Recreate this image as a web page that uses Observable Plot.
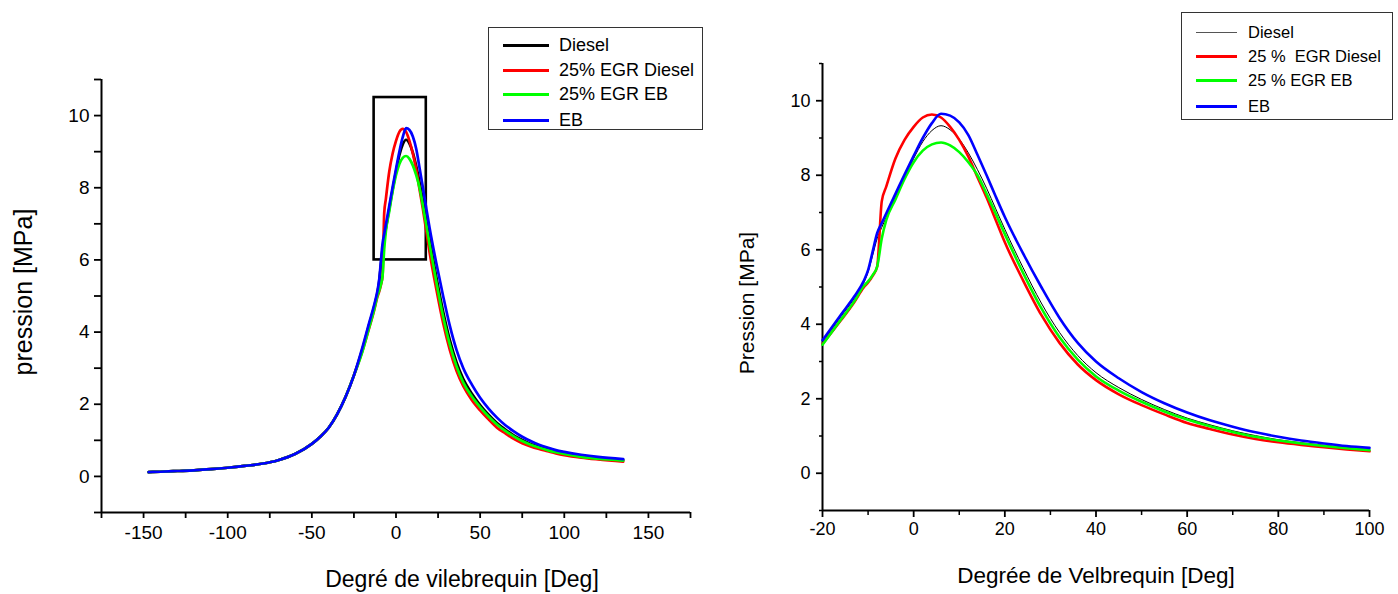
<!DOCTYPE html>
<html><head><meta charset="utf-8">
<script src="https://cdn.jsdelivr.net/npm/d3@7"></script>
<script src="https://cdn.jsdelivr.net/npm/@observablehq/plot@0.6"></script>
<style>
body{margin:0;background:#fff;}
#root{position:relative;width:1398px;height:594px;overflow:hidden;font-family:"Liberation Sans",Arial,sans-serif;color:#000;}
#root svg{position:absolute;top:0;}
.title{position:absolute;white-space:nowrap;line-height:1;}
.legend{position:absolute;border:1px solid #333;background:#fff;box-sizing:border-box;}
.row{position:absolute;white-space:pre;line-height:1;transform:translateY(-50%);}
.sw{position:absolute;}
</style></head><body><div id="root"></div>
<script>
// Crank angle (deg)
const angle = [-147,-140,-130,-120,-110,-100,-90,-80,-70,-60,-50,-45,-40,-35,-30,-25,-20,-16,-13,-11,-10,-9,-8,-7,-6,-4,-2,0,2,4,6,8,10,12,14,16,18,20,24,28,32,36,40,45,50,55,60,65,70,75,80,85,90,95,100,110,120,135];
// Pressure (MPa)
const diesel    = [0.12,0.13,0.15,0.17,0.2,0.24,0.29,0.35,0.45,0.62,0.9,1.1,1.35,1.72,2.2,2.8,
  3.52,4.2,4.7,5.1,5.4,5.85,6.3,6.6,6.88,7.42,7.95,8.45,8.9,9.2,9.33,9.22,8.97,8.6,8.15,7.65,
  7.1,6.55,5.52,4.57,3.78,3.16,2.7,2.3,1.98,1.71,1.48,1.3,1.14,1.01,0.9,0.82,0.75,0.69,0.64,0.56,0.5,0.45];
const egrDiesel = [0.12,0.13,0.15,0.17,0.2,0.24,0.29,0.35,0.45,0.62,0.9,1.1,1.35,1.72,2.2,2.8,
  3.47,4.1,4.6,4.98,5.12,5.3,5.55,7.3,7.7,8.45,8.95,9.3,9.55,9.63,9.55,9.3,8.95,8.5,7.95,7.4,
  6.8,6.2,5.18,4.25,3.5,2.92,2.5,2.12,1.83,1.58,1.35,1.19,1.04,0.92,0.83,0.76,0.7,0.64,0.59,0.52,0.47,0.41];
const egrEB     = [0.12,0.13,0.15,0.17,0.2,0.24,0.29,0.35,0.45,0.62,0.9,1.1,1.35,1.72,2.2,2.8,
  3.45,4.12,4.62,5.02,5.15,5.32,5.55,6.3,6.8,7.35,7.9,8.35,8.66,8.83,8.88,8.8,8.62,8.35,8.0,7.5,
  6.97,6.42,5.38,4.43,3.65,3.05,2.6,2.22,1.92,1.66,1.44,1.26,1.11,0.98,0.88,0.8,0.73,0.67,0.62,0.54,0.49,0.44];
const eb        = [0.12,0.13,0.15,0.17,0.2,0.24,0.29,0.35,0.45,0.62,0.9,1.1,1.35,1.72,2.2,2.8,
  3.57,4.25,4.75,5.15,5.45,5.95,6.45,6.72,6.98,7.5,8.02,8.52,9.0,9.4,9.65,9.6,9.42,9.08,8.55,8.0,
  7.43,6.88,5.9,5.0,4.17,3.5,3.0,2.55,2.18,1.88,1.63,1.42,1.25,1.1,0.98,0.88,0.8,0.73,0.68,0.6,0.54,0.48];

const namesLeft  = ["Diesel", "25% EGR Diesel", "25% EGR EB", "EB"];
const namesRight = ["Diesel", "25 %  EGR Diesel", "25 % EGR EB", "EB"];
const colors = ["#000000", "#ff0000", "#00ff00", "#0000ff"];

// left panel axes
const xMajorLeft = [-150,-100,-50,0,50,100,150];
const xMinorLeft = [-175,-125,-75,-25,25,75,125,175];
const yMajor = [0,2,4,6,8,10];
const yMinor = [-1,1,3,5,7,9,11];
// right panel axes
const xMajorRight = [-20,0,20,40,60,80,100];
const xMinorRight = [-10,10,30,50,70,90];
// zoom box on left panel
const boxAngle = [-13, 18];
const boxPressure = [6, 10.5];

const seriesArrays = [diesel, egrDiesel, egrEB, eb];
const rows = [];
seriesArrays.forEach((arr, k) => angle.forEach((a, i) => rows.push({k, angle: a, p: arr[i]})));

const fmt = d => String(d);
const baseStyle = {fontFamily: "Liberation Sans, Arial, sans-serif", color: "#000", background: "transparent", overflow: "visible"};

const leftLines = [0,1,2,3].map(k => Plot.line(rows.filter(r => r.k === k), {x: "angle", y: "p", stroke: colors[k], strokeWidth: 2.7, curve: "monotone-x"}));

const left = Plot.plot({
  width: 700, height: 594,
  marginLeft: 101, marginRight: 10, marginTop: 79, marginBottom: 82,
  style: {...baseStyle, fontSize: "19px"},
  x: {domain: [-175, 175]},
  y: {domain: [-1, 11]},
  marks: [
    Plot.axisX({ticks: xMajorLeft, tickSize: 6, tickPadding: 7, tickFormat: fmt, label: null, strokeWidth: 1.8}),
    Plot.axisX({ticks: xMinorLeft, tickSize: 6, tickFormat: () => "", label: null, strokeWidth: 1.8}),
    Plot.axisY({ticks: yMajor, tickSize: 7, tickPadding: 5, tickFormat: fmt, label: null, strokeWidth: 1.8}),
    Plot.axisY({ticks: yMinor, tickSize: 7, tickFormat: () => "", label: null, strokeWidth: 1.8}),
    Plot.ruleX([-175], {strokeWidth: 2}),
    Plot.ruleY([-1], {strokeWidth: 2}),
    Plot.rect([{x1: boxAngle[0], x2: boxAngle[1], y1: boxPressure[0], y2: boxPressure[1]}], {x1: "x1", x2: "x2", y1: "y1", y2: "y2", fill: "none", stroke: "#000", strokeWidth: 2.6}),
    ...leftLines
  ]
});
left.style.left = "0px";

const rightRows = rows.filter(r => r.angle >= -20 && r.angle <= 100);
const rightLines = [0,1,2,3].map(k => Plot.line(rightRows.filter(r => r.k === k), {x: "angle", y: "p", stroke: colors[k], strokeWidth: k === 0 ? 1 : 2.6, curve: "monotone-x"}));

const right = Plot.plot({
  width: 698, height: 594,
  marginLeft: 122, marginRight: 29, marginTop: 63, marginBottom: 84,
  style: {...baseStyle, fontSize: "18px"},
  x: {domain: [-20, 100]},
  y: {domain: [-1, 11]},
  marks: [
    Plot.axisX({ticks: xMajorRight, tickSize: 7, tickPadding: 5, tickFormat: fmt, label: null, strokeWidth: 1.8}),
    Plot.axisX({ticks: xMinorRight, tickSize: 5, tickFormat: () => "", label: null, strokeWidth: 1.5}),
    Plot.axisY({ticks: yMajor, tickSize: 6, tickPadding: 6, tickFormat: fmt, label: null, strokeWidth: 1.8}),
    Plot.axisY({ticks: yMinor, tickSize: 3, tickFormat: () => "", label: null, strokeWidth: 1.5}),
    Plot.ruleX([-20], {strokeWidth: 2}),
    Plot.ruleY([-1], {strokeWidth: 2}),
    ...rightLines
  ]
});
right.style.left = "700px";

const root = document.getElementById("root");
root.appendChild(left);
root.appendChild(right);

function addTitle(text, cx, cy, size, rotate) {
  const d = document.createElement("div");
  d.className = "title";
  d.textContent = text;
  d.style.left = cx + "px";
  d.style.top = cy + "px";
  d.style.fontSize = size + "px";
  d.style.transform = "translate(-50%,-50%)" + (rotate ? " rotate(-90deg)" : "");
  root.appendChild(d);
}
addTitle("Degré de vilebrequin [Deg]", 462, 579, 23, false);
addTitle("pression [MPa]", 23, 292, 25, true);
addTitle("Degrée de Velbrequin [Deg]", 1096, 576, 22.5, false);
addTitle("Pression [MPa]", 746, 303, 21, true);

function addLegend(names, box, swX, swW, txtX, rowsY, size, widths) {
  const lg = document.createElement("div");
  lg.className = "legend";
  lg.style.left = box[0] + "px"; lg.style.top = box[1] + "px";
  lg.style.width = box[2] + "px"; lg.style.height = box[3] + "px";
  names.forEach((n, k) => {
    const sw = document.createElement("div");
    sw.className = "sw";
    const w = widths[k];
    sw.style.left = swX + "px"; sw.style.width = swW + "px";
    sw.style.top = Math.round(rowsY[k] - w / 2) + "px"; sw.style.height = w + "px";
    sw.style.background = k === 0 && w < 2 ? "#555" : colors[k];
    lg.appendChild(sw);
    const t = document.createElement("div");
    t.className = "row";
    t.textContent = n;
    t.style.left = txtX + "px"; t.style.top = rowsY[k] + "px";
    t.style.fontSize = size + "px";
    lg.appendChild(t);
  });
  root.appendChild(lg);
}
addLegend(namesLeft, [488, 27, 215, 103], 14, 46, 70, [17, 42, 66, 92], 18, [3, 3, 3, 3]);
addLegend(namesRight, [1181, 12, 212, 108], 14, 41, 66, [19, 43, 67, 93], 16.5, [1, 3, 3, 3]);
</script></body></html>
